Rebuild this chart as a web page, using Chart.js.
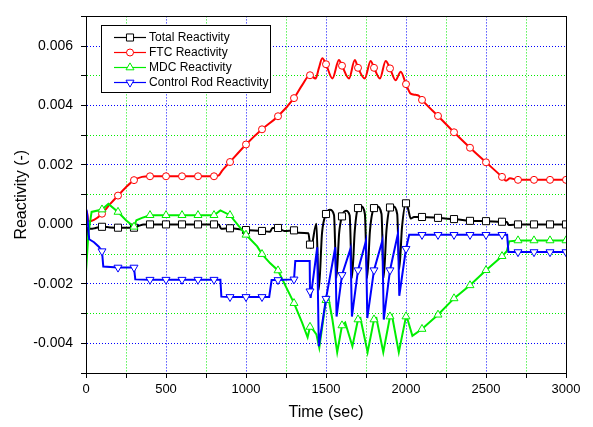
<!DOCTYPE html>
<html><head><meta charset="utf-8">
<script src="https://cdn.jsdelivr.net/npm/chart.js@4.4.1/dist/chart.umd.min.js"></script>
<style>html,body{margin:0;padding:0;background:#fff;}</style>
</head><body>
<canvas id="c" width="593" height="427" style="display:block;width:593px;height:427px"></canvas>
<script>
// ---- data: [time (sec), reactivity in units of 1e-3] ----
const UNIT = 1e-3;
const seriesNames = ['Total Reactivity', 'FTC Reactivity', 'MDC Reactivity', 'Control Rod Reactivity'];
const xTickValues = [0, 500, 1000, 1500, 2000, 2500, 3000];
const yTickValues = [-0.004, -0.002, 0.000, 0.002, 0.004, 0.006];
const markerEvery = 100;

const totalReactivity = [[0,0],[4,-0.45],[10,-0.1],[30,-0.15],[60,-0.12],[100,-0.08],[150,-0.1],[200,-0.11],[250,-0.11],[300,-0.11],[330,-0.05],[360,0],[400,0],[500,0],[600,0],[700,0],[800,0],[830,0],[845,-0.15],[900,-0.13],[1000,-0.19],[1100,-0.22],[1150,-0.25],[1165,-0.12],[1200,-0.12],[1240,-0.22],[1300,-0.2],[1310,-0.28],[1390,-0.3],[1400,-0.68],[1405,-0.8],[1440,0.02],[1455,-2.2],[1475,-0.3],[1500,0.35],[1525,0.49],[1550,0.32],[1565,-1.8],[1582,-0.3],[1600,0.27],[1625,0.46],[1648,0.3],[1662,-1.8],[1680,-0.2],[1700,0.55],[1720,0.6],[1743,0.35],[1757,-1.8],[1775,-0.2],[1800,0.55],[1820,0.6],[1847,0.35],[1860,-1.8],[1878,-0.2],[1900,0.57],[1920,0.6],[1945,0.35],[1958,-1.5],[1975,-0.1],[2000,0.71],[2012,0.55],[2030,0.2],[2050,0.25],[2100,0.25],[2200,0.22],[2300,0.18],[2400,0.12],[2500,0.11],[2600,0.09],[2630,0.08],[2642,-0.02],[2700,0],[2800,0],[2900,0],[3000,0]];

const ftcReactivity = [[0,0],[5,0.45],[15,0.1],[50,0.15],[100,0.36],[150,0.68],[200,0.97],[250,1.25],[300,1.49],[350,1.6],[400,1.62],[500,1.62],[600,1.62],[700,1.62],[800,1.62],[830,1.65],[850,1.8],[900,2.1],[1000,2.69],[1100,3.2],[1200,3.64],[1300,4.25],[1350,4.68],[1400,5.02],[1435,4.91],[1455,5.25],[1477,5.59],[1500,5.39],[1540,4.91],[1581,5.53],[1600,5.34],[1644,4.91],[1680,5.53],[1700,5.27],[1742,4.91],[1779,5.5],[1800,5.27],[1837,4.91],[1873,5.5],[1900,5.25],[1935,4.85],[1967,5.14],[2000,4.72],[2029,4.4],[2060,4.36],[2080,4.33],[2100,4.19],[2200,3.65],[2300,3.1],[2400,2.58],[2500,2.09],[2600,1.6],[2625,1.47],[2650,1.55],[2700,1.5],[2800,1.5],[2900,1.5],[3000,1.5]];

const mdcReactivity = [[0,-1.6],[15,-0.3],[35,0.42],[100,0.5],[140,0.69],[200,0.42],[250,0.14],[300,-0.08],[315,0.14],[350,0.22],[400,0.31],[500,0.31],[600,0.31],[700,0.31],[800,0.31],[840,0.47],[900,0.31],[950,-0.02],[1000,-0.35],[1070,-0.74],[1100,-1.0],[1150,-1.3],[1200,-1.55],[1250,-2.1],[1300,-2.65],[1350,-3.3],[1385,-3.8],[1400,-3.45],[1420,-3.55],[1440,-3.7],[1458,-4.15],[1500,-2.55],[1515,-2.45],[1540,-3.2],[1570,-4.3],[1600,-3.4],[1620,-3.3],[1665,-4.1],[1700,-3.2],[1715,-3.15],[1760,-4.3],[1800,-3.2],[1815,-3.15],[1858,-4.3],[1900,-3.1],[1912,-3.05],[1955,-4.3],[2000,-3.1],[2010,-3.2],[2040,-3.75],[2100,-3.52],[2200,-3.04],[2300,-2.49],[2400,-2.05],[2500,-1.54],[2600,-1.07],[2630,-0.9],[2645,-0.57],[2700,-0.54],[2800,-0.54],[2900,-0.54],[3000,-0.54]];

const controlRodReactivity = [[0,0],[3,0.5],[8,0.3],[20,-0.5],[50,-0.6],[80,-0.75],[100,-0.9],[108,-1.42],[200,-1.45],[300,-1.45],[308,-1.85],[400,-1.86],[500,-1.86],[600,-1.86],[700,-1.86],[800,-1.86],[840,-1.86],[846,-2.43],[900,-2.44],[1000,-2.44],[1100,-2.44],[1145,-2.44],[1160,-1.87],[1200,-1.87],[1300,-1.85],[1308,-1.23],[1398,-1.23],[1400,-2.25],[1404,-2.47],[1445,-0.77],[1455,-4.1],[1500,-2.5],[1558,-0.77],[1566,-3.1],[1600,-1.7],[1653,-0.82],[1662,-3.1],[1700,-1.54],[1750,-0.55],[1758,-3.15],[1800,-1.54],[1852,-0.55],[1861,-3.2],[1900,-1.54],[1950,-0.3],[1958,-2.4],[2000,-0.82],[2020,-0.35],[2100,-0.35],[2200,-0.35],[2300,-0.35],[2400,-0.35],[2500,-0.35],[2600,-0.35],[2632,-0.35],[2640,-0.93],[2700,-0.93],[2800,-0.93],[2900,-0.93],[3000,-0.93]];

// ---- styles ----
const FONT = "'Liberation Sans', Arial, sans-serif";
const colors = ['#000000', '#ff0000', '#00ee00', '#0000ff'];
const pointStyles = ['rect', 'circle', 'triangle', 'triangle'];
const pointRotations = [0, 0, 0, 180];
const pointRadii = [5, 3.5, 4.6, 4.6];
const smoothing = ['monotone', 'monotone', 'none', 'none'];
const seriesData = [totalReactivity, ftcReactivity, mdcReactivity, controlRodReactivity];

const isMarker = ctx => ctx.raw && ctx.raw.x > 0 && ctx.raw.x % markerEvery === 0;

const datasets = seriesData.map((s, i) => {
  const ds = {
    label: seriesNames[i],
    data: s.map(([t, v]) => ({ x: t, y: v * UNIT })),
    borderColor: colors[i],
    backgroundColor: '#ffffff',
    borderWidth: 2,
    tension: 0,
    pointStyle: pointStyles[i],
    pointRotation: pointRotations[i],
    pointRadius: ctx => isMarker(ctx) ? pointRadii[i] : 0,
    pointHoverRadius: 0,
    pointBorderColor: colors[i],
    pointBackgroundColor: '#ffffff',
    pointBorderWidth: 1,
    order: 3 - i
  };
  if (smoothing[i] === 'monotone') ds.cubicInterpolationMode = 'monotone';
  return ds;
});

const align = v => Math.round(v - 0.5) + 0.5;

const framePlugin = {
  id: 'frameAndLegend',
  afterDatasetsDraw(chart) {
    const { ctx, chartArea: a } = chart;
    ctx.save();
    ctx.strokeStyle = '#000';
    ctx.lineWidth = 1;
    ctx.setLineDash([]);
    ctx.strokeRect(align(a.left), align(a.top), Math.round(a.right - a.left), Math.round(a.bottom - a.top));

    // legend
    const bx = 101.5, by = 25.5, bw = 169, bh = 67;
    ctx.fillStyle = '#fff';
    ctx.fillRect(bx, by, bw, bh);
    ctx.strokeStyle = '#000';
    ctx.strokeRect(bx, by, bw, bh);
    ctx.font = '12px ' + FONT;
    ctx.textBaseline = 'middle';
    ctx.textAlign = 'left';
    for (let i = 0; i < seriesNames.length; i++) {
      const y = 37 + 15 * i;
      ctx.strokeStyle = colors[i];
      ctx.lineWidth = 1.2;
      ctx.beginPath();
      ctx.moveTo(114, y + 0.5);
      ctx.lineTo(146, y + 0.5);
      ctx.stroke();
      drawMarker(ctx, i, 130, y + 0.5);
      ctx.fillStyle = '#000';
      ctx.fillText(seriesNames[i], 149, y + 1);
    }
    ctx.restore();
  }
};

function drawMarker(ctx, i, x, y) {
  ctx.save();
  ctx.fillStyle = '#fff';
  ctx.strokeStyle = colors[i];
  ctx.lineWidth = 1;
  ctx.beginPath();
  const r = pointRadii[i];
  if (pointStyles[i] === 'rect') {
    const h = r * Math.SQRT1_2;
    ctx.rect(x - h, y - h, 2 * h, 2 * h);
  } else if (pointStyles[i] === 'circle') {
    ctx.arc(x, y, r, 0, Math.PI * 2);
  } else {
    const dir = pointRotations[i] === 180 ? -1 : 1;
    const s = r * 0.866, h2 = r * 0.5;
    ctx.moveTo(x, y - dir * r);
    ctx.lineTo(x - s, y + dir * h2);
    ctx.lineTo(x + s, y + dir * h2);
    ctx.closePath();
  }
  ctx.fill();
  ctx.stroke();
  ctx.restore();
}

const isMajorY = v => Math.abs(Math.round(v * 1000)) % 2 === 0;

new Chart(document.getElementById('c'), {
  type: 'line',
  data: { datasets },
  options: {
    responsive: false,
    animation: false,
    devicePixelRatio: 1,
    layout: { padding: { left: 0, top: 11, right: 27, bottom: 0 } },
    plugins: { legend: { display: false }, tooltip: { enabled: false } },
    events: [],
    scales: {
      x: {
        type: 'linear',
        min: 0, max: 3000,
        afterFit: s => { s.height = 54; },
        ticks: {
          stepSize: 250, autoSkip: false, maxRotation: 0, minRotation: 0,
          callback: v => xTickValues.includes(v) ? String(v) : '',
          color: '#000', font: { family: FONT, size: 13 }, padding: 4
        },
        grid: {
          color: c => (c.tick && c.tick.value % 500 !== 0) ? '#00ee00' : '#0000ff',
          lineWidth: 1, tickColor: '#000', tickLength: 5, drawTicks: true
        },
        border: { color: '#000', width: 1, dash: [1, 2] },
        title: { display: true, text: 'Time (sec)', color: '#000', font: { family: FONT, size: 16 }, padding: { top: 0, bottom: 5 } }
      },
      y: {
        type: 'linear',
        min: -0.005, max: 0.007,
        afterFit: s => { s.width = 86; },
        ticks: {
          stepSize: 0.001, autoSkip: false,
          callback: v => {
            const r = Math.round(v * 1000) / 1000;
            return yTickValues.some(t => Math.abs(t - r) < 1e-9) ? r.toFixed(3) : '';
          },
          color: '#000', font: { family: FONT, size: 14 }, padding: 8
        },
        grid: {
          color: c => (c.tick && !isMajorY(c.tick.value)) ? '#00ee00' : '#0000ff',
          lineWidth: 1, tickColor: '#000', tickLength: 5, drawTicks: true
        },
        border: { color: '#000', width: 1, dash: [1, 2] },
        title: { display: true, text: 'Reactivity (-)', color: '#000', font: { family: FONT, size: 16 }, padding: { top: 12, bottom: 0 } }
      }
    }
  },
  plugins: [framePlugin]
});
</script>
</body></html>
